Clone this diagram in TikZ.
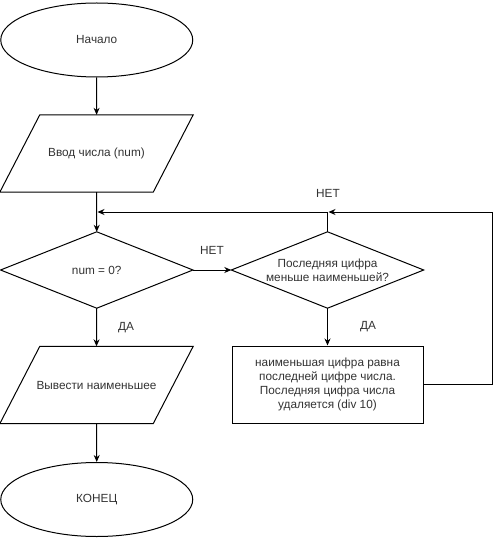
\documentclass[tikz,border=0pt]{standalone}
\usepackage{fontspec}
\setmainfont{Liberation Sans}
\usetikzlibrary{shapes.geometric,arrows.meta}
\begin{document}
\begin{tikzpicture}[x=1pt,y=-1pt,
  every node/.style={font=\fontsize{11.8}{14}\selectfont, text=black!80},
  line/.style={line width=1pt, draw=black},
  arr/.style={line, -{Stealth[length=7pt,width=6pt]}},
  term/.style={ellipse, line, minimum width=192pt, minimum height=74pt, inner sep=0pt},
  dec/.style={rectangle, minimum width=192pt, minimum height=76pt, inner sep=0pt, align=center},
  io/.style={rectangle, minimum width=153pt, minimum height=77pt, inner sep=0pt},
  proc/.style={rectangle, line, minimum width=191pt, minimum height=77pt, inner sep=0pt, align=center},
  lbl/.style={inner sep=0pt}]
\useasboundingbox (0,0) rectangle (500,540);
\fill[white] (0,0) rectangle (500,540);
% nodes
\node[term] (start) at (96.75,40) {Начало};
\node[io] (inp) at (96.5,153.5) {Ввод числа (num)};
\draw[line] ([xshift=20pt]inp.north west) -- ([xshift=20pt]inp.north east) -- ([xshift=-20pt]inp.south east) -- ([xshift=-20pt]inp.south west) -- cycle;
\node[dec] (d1) at (96.75,270) {num = 0?};
\draw[line] (d1.north) -- (d1.east) -- (d1.south) -- (d1.west) -- cycle;
\node[dec] (d2) at (327.5,270) {Последняя цифра\\меньше наименьшей?};
\draw[line] (d2.north) -- (d2.east) -- (d2.south) -- (d2.west) -- cycle;
\node[proc] (box) at (327.5,384.5) {наименьшая цифра равна\\последней цифре числа.\\Последняя цифра числа\\удаляется (div 10)};
\node[io] (out) at (96.5,385) {Вывести наименьшее};
\draw[line] ([xshift=20pt]out.north west) -- ([xshift=20pt]out.north east) -- ([xshift=-20pt]out.south east) -- ([xshift=-20pt]out.south west) -- cycle;
\node[term] (end) at (96.75,499.5) {КОНЕЦ};
% labels
\node[lbl] (l1) at (212,250) {НЕТ};
\node[lbl] (l2) at (328,193) {НЕТ};
\node[lbl] (l3) at (368,327) {ДА};
\node[lbl] (l4) at (126,328) {ДА};
% coordinates
\coordinate (fb) at (97.5,212);
\coordinate (rc) at (492,212);
% connectors
\draw[arr] (start) -- (inp);
\draw[arr] (inp.south) -- (d1.north);
\draw[arr] (d1.east) -- (d2.west);
\draw[arr] (d1.south) -- (out.north);
\draw[arr] (out.south) -- (end.north);
\draw[arr] (d2.south) -- (box.north);
\draw[arr] (d2.north) -- (d2.north |- fb) -- (fb);
\draw[arr] (box.east) -| (rc) -- ([xshift=1pt]d2.north |- rc);
\end{tikzpicture}
\end{document}
